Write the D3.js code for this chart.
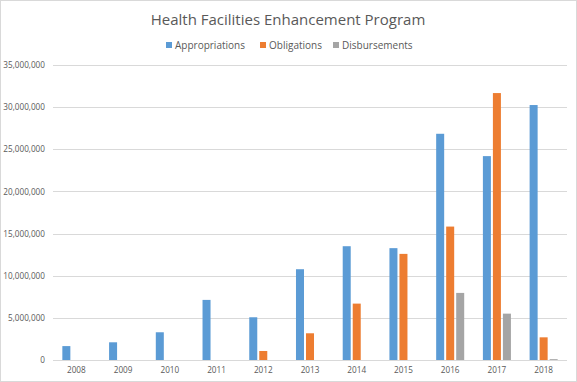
<!DOCTYPE html>
<html>
<head>
<meta charset="utf-8">
<script src="https://cdn.jsdelivr.net/npm/d3@7"></script>
<style>
  body { margin: 0; background: #fff; }
  text { font-family: "Open Sans", "Noto Sans", sans-serif; fill: #595959; }
</style>
</head>
<body>
<svg id="chart"></svg>
<script>
var years = ["2008","2009","2010","2011","2012","2013","2014","2015","2016","2017","2018"];
var seriesNames = ["Appropriations","Obligations","Disbursements"];
var appropriations = [1650000, 2100000, 3290000, 7130000, 5070000, 10770000, 13500000, 13270000, 26840000, 24190000, 30250000];
var obligations = [0, 0, 0, 0, 1070000, 3170000, 6690000, 12590000, 15830000, 31670000, 2690000];
var disbursements = [0, 0, 0, 0, 0, 0, 0, 0, 7960000, 5500000, 100000];
var yTicks = [0, 5000000, 10000000, 15000000, 20000000, 25000000, 30000000, 35000000];
var colors = ["#5b9bd5", "#ed7d31", "#a5a5a5"];

var W = 577, H = 382;
var margin = {top: 65, right: 10, bottom: 22, left: 53};
var width = W - margin.left - margin.right;
var height = H - margin.top - margin.bottom;

var data = years.map(function(y, i) {
  return {year: y, values: [appropriations[i], obligations[i], disbursements[i]]};
});

var root = d3.select("#chart").attr("width", W).attr("height", H);

root.append("rect")
  .attr("x", 0.5).attr("y", 0.5)
  .attr("width", W - 1).attr("height", H - 1)
  .attr("fill", "#fff").attr("stroke", "#d9d9d9");

root.append("text")
  .attr("x", 288).attr("y", 25)
  .attr("text-anchor", "middle")
  .style("font-size", "15px")
  .text("Health Facilities Enhancement Program");

var svg = root.append("g")
  .attr("transform", "translate(" + margin.left + "," + margin.top + ")");

var x0 = d3.scaleBand().domain(years).range([0, width])
  .paddingInner(0.4).paddingOuter(0.2);
var x1 = d3.scaleBand().domain(d3.range(3)).range([0, x0.bandwidth()])
  .paddingInner(0.2);
var y = d3.scaleLinear().domain([0, 35000000]).range([height, 0]);

// gridlines
svg.append("g")
  .selectAll("line")
  .data(yTicks)
  .enter().append("line")
  .attr("x1", 0).attr("x2", width)
  .attr("y1", function(d) { return Math.round(y(d)) + 0.5; })
  .attr("y2", function(d) { return Math.round(y(d)) + 0.5; })
  .attr("stroke", "#d9d9d9");

var yAxis = svg.append("g")
  .call(d3.axisLeft(y).tickValues(yTicks).tickSize(0).tickPadding(8).tickFormat(d3.format(",")));
yAxis.select(".domain").remove();
yAxis.selectAll("text").style("font-size", "8.2px").attr("fill", "#595959");

var xAxis = svg.append("g")
  .attr("transform", "translate(0," + height + ")")
  .call(d3.axisBottom(x0).tickSize(0).tickPadding(7));
xAxis.select(".domain").remove();
xAxis.selectAll("text").style("font-size", "8.2px").attr("fill", "#595959");

var groups = svg.selectAll(".grp")
  .data(data)
  .enter().append("g")
  .attr("class", "grp")
  .attr("transform", function(d) { return "translate(" + x0(d.year) + ",0)"; });

groups.selectAll("rect")
  .data(function(d) { return d.values.map(function(v, i) { return {i: i, v: v}; }); })
  .enter().append("rect")
  .filter(function(d) { return d.v > 0; })
  .attr("x", function(d) { return x1(d.i); })
  .attr("y", function(d) { return y(d.v); })
  .attr("width", x1.bandwidth())
  .attr("height", function(d) { return height - y(d.v); })
  .attr("fill", function(d, i) { return colors[d.i]; });

// legend
var legendX = [166, 260, 333];
var legend = root.append("g").selectAll("g")
  .data(seriesNames)
  .enter().append("g")
  .attr("transform", function(d, i) { return "translate(" + legendX[i] + ",45)"; });
legend.append("rect")
  .attr("x", 0).attr("y", -3)
  .attr("width", 6).attr("height", 6)
  .attr("fill", function(d, i) { return colors[i]; });
legend.append("text")
  .attr("x", 9).attr("y", 0)
  .attr("dy", "0.35em")
  .style("font-size", "10px")
  .text(function(d) { return d; });
</script>
</body>
</html>
